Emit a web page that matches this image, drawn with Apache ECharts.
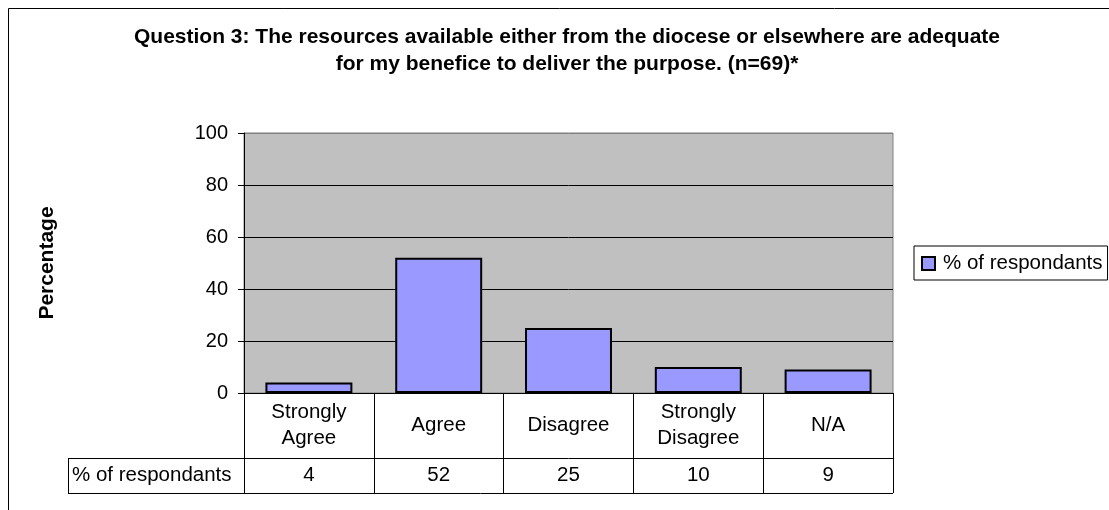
<!DOCTYPE html>
<html>
    <head>
        <meta charset="UTF-8">
        <title>Question 3</title>
        <script src="https://cdn.jsdelivr.net/npm/echarts@6/dist/echarts.min.js"></script>
        <style>
            body { margin: 0; background: #fff; }
        </style>
    </head>
    <body>
    <div id="main" style="width: 1109px;height:510px;"></div>
    <script type="text/javascript">
        var categories = ['Strongly\nAgree', 'Agree', 'Disagree', 'Strongly\nDisagree', 'N/A'];
        var values = [4, 52, 25, 10, 9];
        var seriesName = '% of respondants';
        var yTicks = { min: 0, max: 100, interval: 20 };

        // plot box, in pixels
        var gl = 244, gt = 133, gw = 649, gh = 260;
        var row1 = 65, row2 = 35;
        var font = 'Liberation Sans';
        var fs = 20.5;

        var myChart = echarts.init(document.getElementById('main'));

        var bottom0 = gt + gh;

        var option = {
            backgroundColor: '#FFFFFF',
            textStyle: { fontFamily: font, color: '#000' },
            title: {
                text: 'Question 3: The resources available either from the diocese or elsewhere are adequate\nfor my benefice to deliver the purpose. (n=69)*',
                left: 562,
                top: 19,
                textAlign: 'center',
                textStyle: { fontFamily: font, fontSize: 21, fontWeight: 'bold', lineHeight: 27, color: '#000' }
            },
            legend: {
                data: [seriesName],
                left: 914,
                top: 246,
                orient: 'vertical',
                icon: 'rect',
                itemWidth: 13,
                itemHeight: 13,
                itemGap: 4,
                padding: [7, 5, 6, 7],
                borderColor: '#000',
                borderWidth: 1,
                textStyle: { fontFamily: font, fontSize: fs, color: '#000', padding: [0, 0, 0, 3] }
            },
            grid: {
                left: gl, top: gt, width: gw, height: gh,
                show: true,
                backgroundColor: '#C0C0C0',
                borderColor: '#808080',
                borderWidth: 1
            },
            xAxis: [{
                type: 'category',
                data: categories,
                axisLine: { lineStyle: { color: '#000', width: 1 } },
                axisTick: { show: true, length: row1 + row2, lineStyle: { color: '#000' } },
                axisLabel: {
                    interval: 0, fontSize: fs, lineHeight: 26, color: '#000',
                    verticalAlign: 'middle', margin: row1 / 2
                }
            }, {
                type: 'category',
                position: 'bottom',
                offset: row1,
                data: values.map(String),
                axisLine: { lineStyle: { color: '#000', width: 1 } },
                axisTick: { show: false },
                axisLabel: {
                    interval: 0, fontSize: fs, color: '#000',
                    verticalAlign: 'middle', margin: row2 / 2
                }
            }],
            yAxis: {
                type: 'value',
                min: yTicks.min,
                max: yTicks.max,
                interval: yTicks.interval,
                name: 'Percentage',
                nameLocation: 'middle',
                nameRotate: 90,
                nameGap: 186,
                nameTextStyle: { fontFamily: font, fontSize: 21, fontWeight: 'bold', color: '#000' },
                axisLine: { show: true, lineStyle: { color: '#000', width: 1 } },
                axisTick: { show: true, length: 6, lineStyle: { color: '#000' } },
                axisLabel: { fontSize: 20, color: '#000', margin: 16 },
                splitLine: {
                    show: true,
                    lineStyle: { color: ['#000', '#000', '#000', '#000', '#000', '#808080'], width: 1 }
                }
            },
            graphic: [
                // outer chart border (runs off the picture at right and bottom)
                { type: 'rect', shape: { x: 8.5, y: 8.5, width: 1300, height: 700 },
                  style: { fill: 'none', stroke: '#000', lineWidth: 1 }, silent: true },
                // data table: label cell
                { type: 'line', shape: { x1: 68, y1: bottom0 + row1 + 0.5, x2: gl, y2: bottom0 + row1 + 0.5 },
                  style: { stroke: '#000', lineWidth: 1 } },
                { type: 'line', shape: { x1: 68, y1: bottom0 + row1 + row2 + 0.5, x2: gl + gw, y2: bottom0 + row1 + row2 + 0.5 },
                  style: { stroke: '#000', lineWidth: 1 } },
                { type: 'line', shape: { x1: 68.5, y1: bottom0 + row1, x2: 68.5, y2: bottom0 + row1 + row2 + 1 },
                  style: { stroke: '#000', lineWidth: 1 } },
                { type: 'text', left: 72, top: bottom0 + row1 + 7,
                  style: { text: seriesName, fontFamily: font, fontSize: fs, fill: '#000' } }
            ],
            series: [{
                name: seriesName,
                type: 'bar',
                data: values,
                barCategoryGap: '33%',
                itemStyle: { color: '#9999FF', borderColor: '#000', borderWidth: 2 }
            }]
        };

        myChart.setOption(option);
    </script>
    </body>
</html>
